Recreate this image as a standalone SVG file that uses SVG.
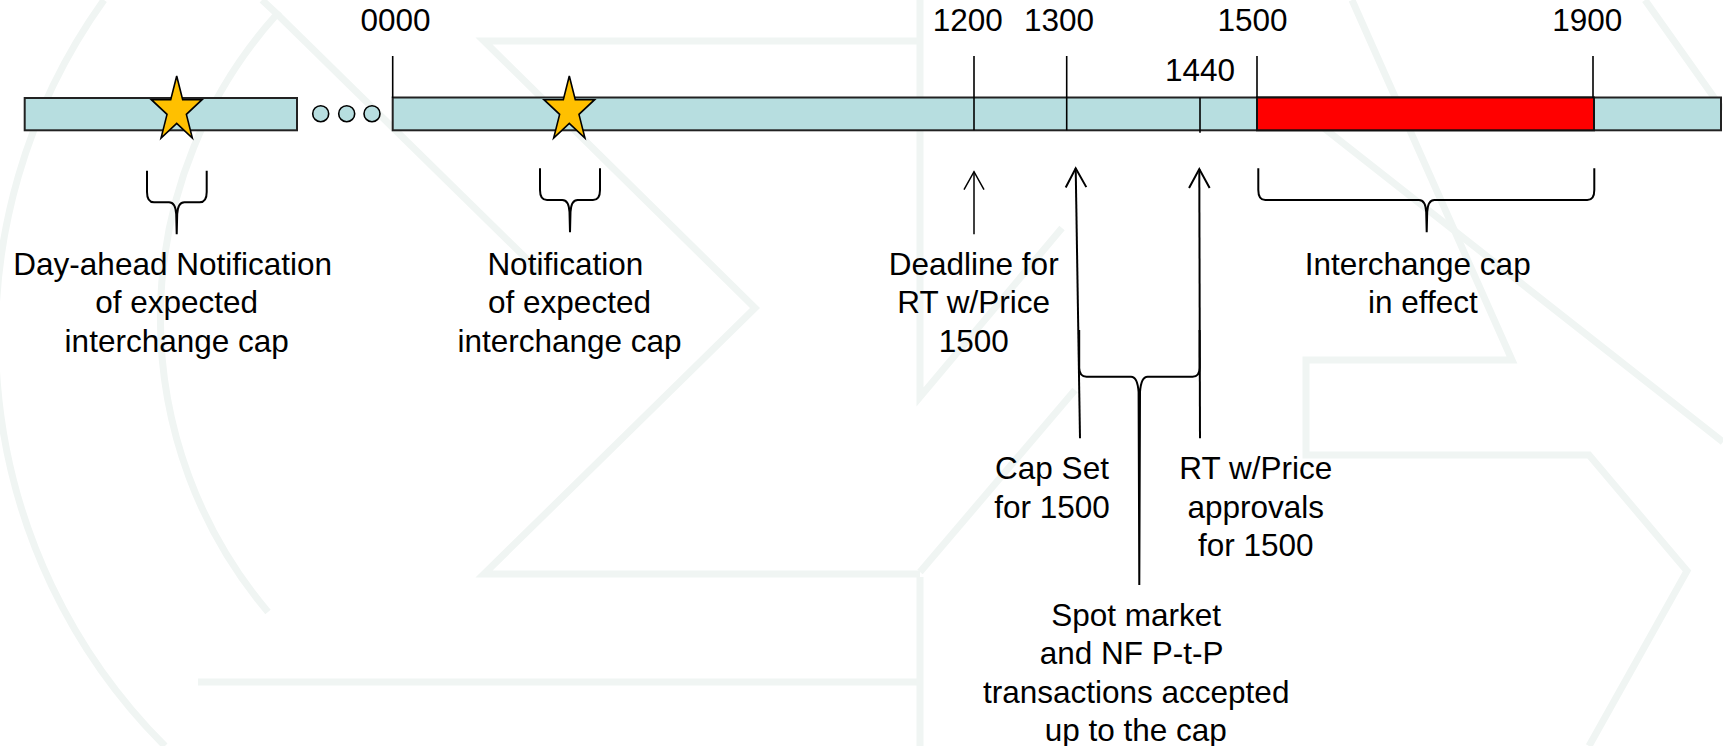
<svg xmlns="http://www.w3.org/2000/svg" width="1723" height="746" viewBox="0 0 1723 746">
<style>
.wm{fill:none;stroke:#f0f5f3;stroke-width:7;stroke-linejoin:miter}
.bar{fill:#B7DEE0;stroke:#222;stroke-width:2}
.red{fill:#FF0000;stroke:#111;stroke-width:2}
.tick{stroke:#000;stroke-width:1.6;fill:none}
.brace{fill:none;stroke:#000;stroke-width:2;stroke-linejoin:round}
.dot{fill:#B7DEE0;stroke:#000;stroke-width:1.6}
.star{fill:#FFC000;stroke:#000;stroke-width:1.6;stroke-linejoin:miter}
.arr{fill:none;stroke:#000}
text{font-family:"Liberation Sans",Arial,sans-serif;font-size:31.5px;fill:#000;text-anchor:middle}
</style>
<defs>
<polygon id="starShape" class="star" points="0,-34.3 5.98,-10.6 25.31,-10.6 9.67,4.05 15.64,27.75 0,13.1 -15.64,27.75 -9.67,4.05 -25.31,-10.6 -5.98,-10.6"/>
<marker id="headThin" markerUnits="userSpaceOnUse" orient="auto" refX="0" refY="0" markerWidth="40" markerHeight="40" overflow="visible">
<path d="M-18,-10 L0,0 L-18,10" fill="none" stroke="#000" stroke-width="1.5"/>
</marker>
<marker id="headBold" markerUnits="userSpaceOnUse" orient="auto" refX="0" refY="0" markerWidth="40" markerHeight="40" overflow="visible">
<path d="M-19,-10.3 L0,0 L-19,10.3" fill="none" stroke="#000" stroke-width="2"/>
</marker>
</defs>
<rect x="0" y="0" width="1723" height="746" fill="#fff"/>
<g id="watermark">
<path class="wm" d="M104,0 A578,578 0 0 0 165,746"/>
<path class="wm" d="M262,0 L277,14 A455,455 0 0 0 268,612"/>
<path class="wm" d="M277,14 L540,272"/>
<path class="wm" d="M920,41 L484,41 L755,308 L484,574 L920,574"/>
<path class="wm" d="M920,0 L920,397 L1062,228"/>
<path class="wm" d="M198,682 L920,682 M920,577 L920,746"/>
<path class="wm" d="M920,572 L1075,390"/>
<path class="wm" d="M1352,0 L1512,360 L1306,360 L1306,455 L1589,455 L1687,571 L1589,746"/>
<path class="wm" d="M1320,125 L1723,442 M1645,0 L1723,110"/>
</g>
<g id="bar-before">
<rect class="bar" x="24.7" y="98" width="272.3" height="32.3"/>
</g>
<g id="ellipsis">
<circle class="dot" cx="320.7" cy="113.7" r="8"/>
<circle class="dot" cx="346.7" cy="113.7" r="8"/>
<circle class="dot" cx="372" cy="113.7" r="8"/>
</g>
<g id="bar-day">
<rect class="bar" x="392.7" y="97.5" width="1328.3" height="32.8"/>
</g>
<g id="cap-period">
<rect class="red" x="1257" y="97.5" width="337" height="32.8"/>
</g>
<g id="ticks">
<line class="tick" x1="392.7" y1="56" x2="392.7" y2="98"/>
<line class="tick" x1="974" y1="56" x2="974" y2="130.3"/>
<line class="tick" x1="1066.7" y1="56" x2="1066.7" y2="130.3"/>
<line class="tick" x1="1200" y1="97.5" x2="1200" y2="132.7"/>
<line class="tick" x1="1257" y1="56" x2="1257" y2="98"/>
<line class="tick" x1="1593" y1="56" x2="1593" y2="98"/>
</g>
<g id="time-labels">
<text x="395.5" y="31.3">0000</text>
<text x="967.8" y="31.3">1200</text>
<text x="1059" y="31.3">1300</text>
<text x="1252.5" y="31.3">1500</text>
<text x="1587.2" y="31.3">1900</text>
<text x="1200" y="80.7">1440</text>
</g>
<g id="star-dayahead">
<use href="#starShape" x="176.7" y="110.3"/>
</g>
<g id="star-sameday">
<use href="#starShape" x="569.3" y="110.3"/>
</g>
<g id="brace-dayahead">
<path class="brace" d="M147,170.7 L147,192 Q147,202.3 154,202.3 L169,202.3 Q175.5,202.3 176.2,214 L176.7,234.3 M206.7,170.7 L206.7,192 Q206.7,202.3 199.7,202.3 L184.4,202.3 Q177.9,202.3 177.2,214 L176.7,234.3"/>
<text x="172.7" y="275">Day-ahead Notification</text>
<text x="176.7" y="313.4">of expected</text>
<text x="176.7" y="351.8">interchange cap</text>
</g>
<g id="brace-sameday">
<path class="brace" d="M540,168.3 L540,190 Q540,200 547,200 L562.3,200 Q568.8,200 569.5,212 L570,232.3 M600,168.3 L600,190 Q600,200 593,200 L577.7,200 Q571.2,200 570.5,212 L570,232.3"/>
<text x="565.3" y="275">Notification</text>
<text x="569.5" y="313.4">of expected</text>
<text x="569.5" y="351.8">interchange cap</text>
</g>
<g id="deadline">
<text x="973.7" y="275">Deadline for</text>
<text x="973.7" y="313.4">RT w/Price</text>
<text x="973.7" y="351.8">1500</text>
</g>
<g id="brace-cap">
<path class="brace" d="M1258.3,168.3 L1258.3,190 Q1258.3,200 1265.3,200 L1419,200 Q1425.5,200 1426.2,212 L1426.7,232.3 M1594.3,168.3 L1594.3,190 Q1594.3,200 1587.3,200 L1434.4,200 Q1427.9,200 1427.2,212 L1426.7,232.3"/>
<text x="1417.7" y="275">Interchange cap</text>
<text x="1422.8" y="313.4">in effect</text>
</g>
<g id="brace-spot">
<path class="brace" d="M1079.2,330 L1079.2,368 Q1079.5,376.7 1086.5,376.7 L1131,376.7 Q1137.5,376.7 1138.6,392 L1139.3,585 M1199.6,330 L1199.6,368 Q1199.6,376.7 1192.6,376.7 L1147.6,376.7 Q1141.1,376.7 1140,392 L1139.3,585"/>
</g>
<g id="cap-set">
<text x="1052" y="479.3">Cap Set</text>
<text x="1052" y="517.7">for 1500</text>
</g>
<g id="rt-approvals">
<text x="1255.8" y="479.3">RT w/Price</text>
<text x="1255.8" y="517.7">approvals</text>
<text x="1255.8" y="556">for 1500</text>
</g>
<g id="spot-market">
<text x="1136.2" y="625.5">Spot market</text>
<text x="1131.7" y="664">and NF P-t-P</text>
<text x="1136.2" y="702.5">transactions accepted</text>
<text x="1135.8" y="741">up to the cap</text>
</g>
<g id="connectors">
<path class="arr" stroke-width="1.5" d="M974,234.3 L974,171.7" marker-end="url(#headThin)"/>
<path class="arr" stroke-width="2" d="M1080,438.3 L1075.7,168.3" marker-end="url(#headBold)"/>
<path class="arr" stroke-width="2" d="M1200,438.3 L1199.3,169" marker-end="url(#headBold)"/>
</g>
</svg>
